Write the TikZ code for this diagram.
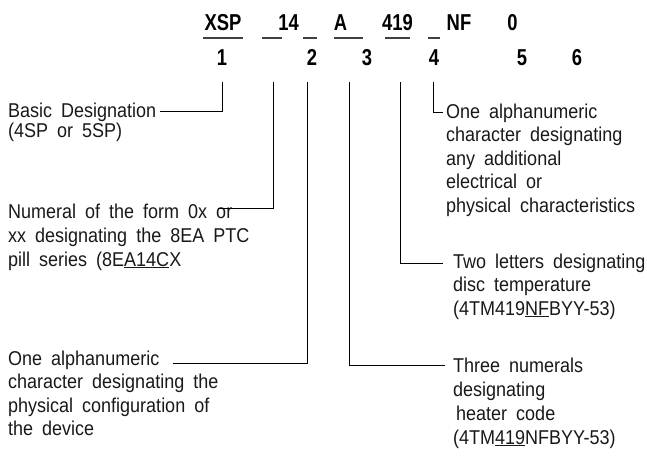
\documentclass[tikz,border=0pt]{standalone}
\usepackage{fontspec}
\setmainfont{Liberation Sans}[WordSpace=1.8, FakeStretch=0.9]
\newfontfamily\hdfont{Liberation Sans}[FakeStretch=0.8]
\newcommand\txtlines[2]{\fontsize{20}{#1}\selectfont\begin{tabular}[t]{@{}l@{}}#2\end{tabular}}
\begin{document}
\begin{tikzpicture}[x=1pt,y=-1pt,
  hd/.style={font=\hdfont\bfseries\fontsize{23}{23}\selectfont, inner sep=0pt, anchor=base},
  txt/.style={inner sep=0pt, anchor=base west, text=black!90},
  bar/.style={line width=1.5pt, black!75},
  conn/.style={line width=0.9pt, black}]
\useasboundingbox (0,0) rectangle (647,455);
% top row
\node[hd] (xsp) at (223,30) {XSP};
\node[hd] (n14) at (288.5,30) {14};
\node[hd] (a) at (340.5,30) {A};
\node[hd] (n419) at (397.5,30) {419};
\node[hd] (nf) at (459,30) {NF};
\node[hd] (zero) at (512.5,30) {0};
% underline bars
\draw[bar] (203,38) -- (243,38);
\draw[bar] (262,38) -- (282,38);
\draw[bar] (303,38) -- (317,38);
\draw[bar] (334,38) -- (363,38);
\draw[bar] (385,38) -- (410,38);
\draw[bar] (428,38) -- (440,38);
% numbers row
\node[hd] (k1) at (222,65) {1};
\node[hd] (k2) at (312,65) {2};
\node[hd] (k3) at (367,65) {3};
\node[hd] (k4) at (434,65) {4};
\node[hd] (k5) at (522,65) {5};
\node[hd] (k6) at (577,65) {6};
% left texts
\node[txt] (l1) at (8,117) {\txtlines{20}{Basic Designation\\(4SP or 5SP)}};
\node[txt] (l2) at (8,218) {\txtlines{24}{Numeral of the form 0x or\\xx designating the 8EA PTC\\pill series (8E\underline{A14C}X}};
\node[txt] (l3) at (8,365) {\txtlines{23.5}{One alphanumeric\\character designating the\\physical configuration of\\the device}};
% right texts
\node[txt] (r1) at (446,118) {\txtlines{23.5}{One alphanumeric\\character designating\\any additional\\electrical or\\physical characteristics}};
\node[txt] (r2) at (453,268) {\txtlines{23.5}{Two letters designating\\disc temperature\\(4TM419\underline{NF}BYY-53)}};
\node[txt] (r3) at (453,372) {\txtlines{24}{Three numerals\\designating\\\hspace{3pt}heater code\\(4TM\underline{419}NFBYY-53)}};
% connector ends
\coordinate (t1) at (222,82); \coordinate (e1) at (160,111);
\coordinate (t2) at (273,82); \coordinate (e2) at (218,208);
\coordinate (t3) at (307,82); \coordinate (e3) at (173,363);
\coordinate (t4) at (349,82); \coordinate (e4) at (445,365);
\coordinate (t5) at (400,82); \coordinate (e5) at (443,263);
\coordinate (t6) at (433,82); \coordinate (e6) at (443,112);
\draw[conn] (t1) |- (e1);
\draw[conn] (t2) |- (e2);
\draw[conn] (t3) |- (e3);
\draw[conn] (t4) |- (e4);
\draw[conn] (t5) |- (e5);
\draw[conn] (t6) |- (e6);
\end{tikzpicture}
\end{document}
